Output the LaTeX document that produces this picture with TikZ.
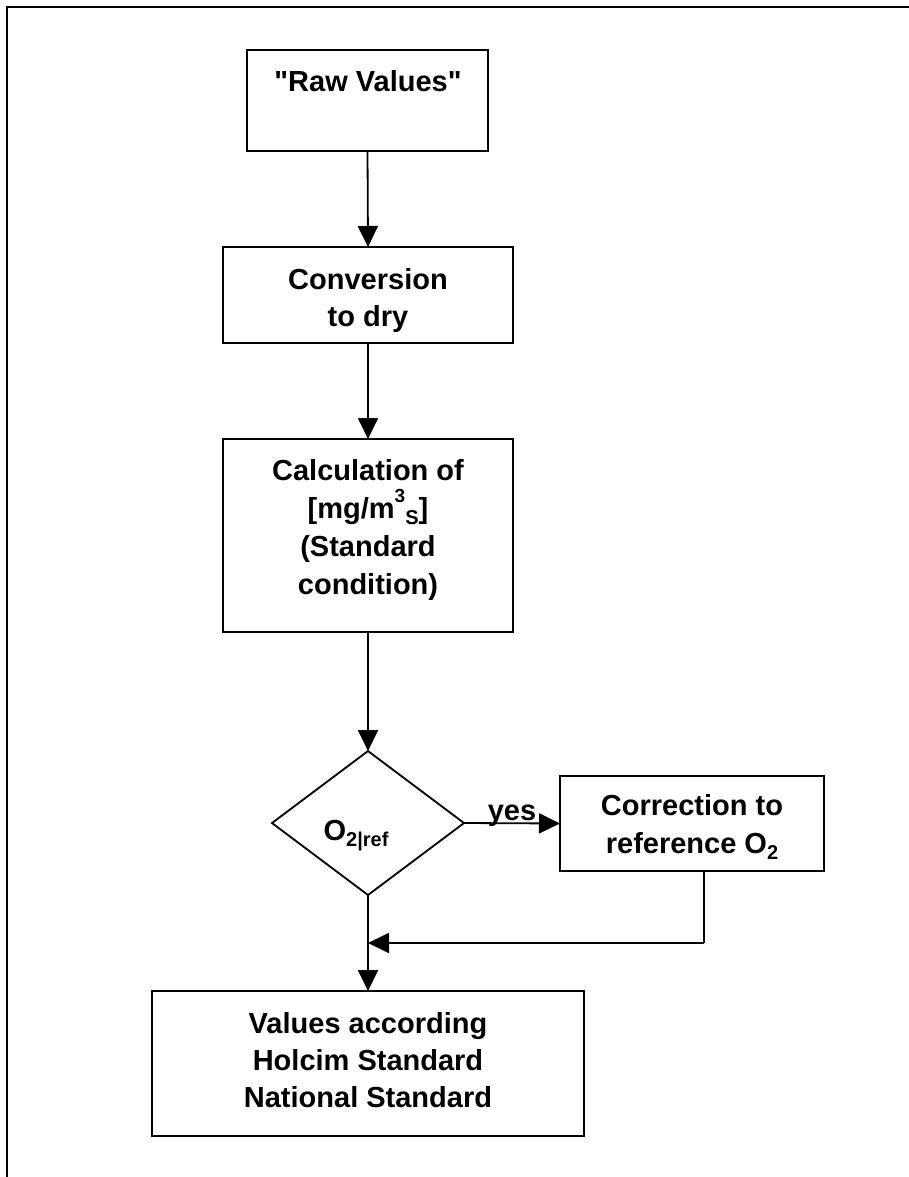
\documentclass[tikz,border=0pt]{standalone}
\usepackage{fontspec}
\setmainfont{Liberation Sans}[Ligatures=TeXOff]
\usetikzlibrary{shapes.geometric,arrows.meta}
\newcommand{\supx}[1]{\raisebox{0.55em}{\fontsize{19}{19}\selectfont #1}}
\newcommand{\subx}[1]{\raisebox{-0.22em}{\fontsize{20}{20}\selectfont #1}}
\begin{document}
\begin{tikzpicture}[x=1pt,y=-1pt,
  box/.style={draw,line width=2pt,rectangle,inner sep=0pt,outer sep=0pt},
  dia/.style={draw,line width=1.8pt,diamond,inner sep=0pt,outer sep=0pt},
  lbl/.style={anchor=base,inner sep=0pt,font=\fontsize{29}{37}\selectfont\bfseries},
  conn/.style={line width=1.8pt,-{Triangle[length=21pt,width=20pt]}},
  plain/.style={line width=1.8pt}]
\useasboundingbox (0,0) rectangle (909,1177);
% frame
\coordinate (fbl) at (7,1178);
\coordinate (ftl) at (7,7);
\coordinate (ftr) at (910,7);
\draw[line width=2pt] (fbl) -- (ftl) -- (ftr);
% boxes
\node[box,minimum width=241pt,minimum height=101pt] (raw) at (367.5,100.5) {};
\node[box,minimum width=290pt,minimum height=96pt] (conv) at (368,295) {};
\node[box,minimum width=290pt,minimum height=193pt] (calc) at (368,535.5) {};
\node[dia,minimum width=192pt,minimum height=144pt] (dec) at (368,823) {};
\node[box,minimum width=264pt,minimum height=95pt] (corr) at (692,823.5) {};
\node[box,minimum width=432pt,minimum height=145pt] (vals) at (368,1063.5) {};
% texts
\node[lbl] (rawt) at (368,92) {"Raw Values"};
\node[lbl] (convt1) at (368,289) {Conversion};
\node[lbl] (convt2) at (368,326) {to dry};
\node[lbl] (calct1) at (368,480) {Calculation of};
\node[lbl] (calct2) at (368,518) {[mg/m\supx{3}\subx{S}]};
\node[lbl] (calct3) at (368,556) {(Standard};
\node[lbl] (calct4) at (368,594) {condition)};
\node[lbl] (dect) at (356,840) {O\subx{2|ref}};
\node[lbl] (corrt1) at (692,815) {Correction to};
\node[lbl] (corrt2) at (692,853) {reference O\subx{2}};
\node[lbl] (valst1) at (368,1033) {Values according};
\node[lbl] (valst2) at (368,1070) {Holcim Standard};
\node[lbl] (valst3) at (368,1107) {National Standard};
% connectors
\draw[conn] (raw.south) -- (conv.north);
\draw[conn] (conv.south) -- (calc.north);
\draw[conn] (calc.south) -- (dec.north);
\draw[conn] (dec.east) -- node[lbl,anchor=base,pos=0.5,yshift=3pt] (yes) {yes} (corr.west);
\coordinate (jr) at (704,943);
\draw[plain] (corr.south -| jr) -- (jr);
\draw[conn] (jr) -- (dec.south |- jr);
\draw[conn] (dec.south) -- (vals.north);
\end{tikzpicture}
\end{document}
